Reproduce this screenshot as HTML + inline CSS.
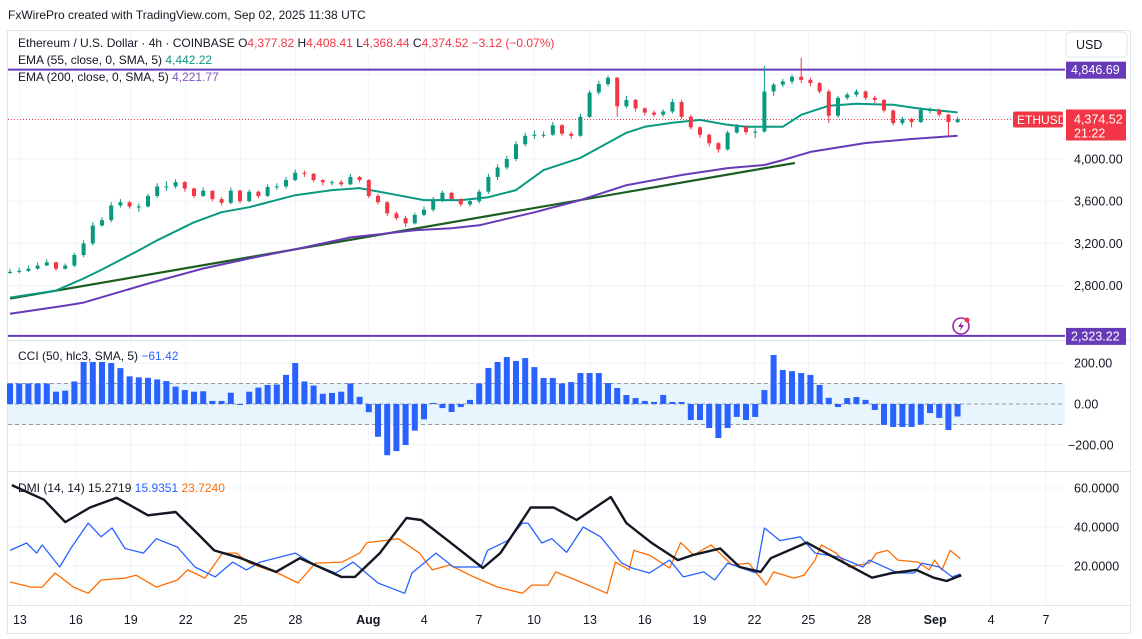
<!DOCTYPE html>
<html><head><meta charset="utf-8">
<style>
html,body{margin:0;padding:0;background:#fff;}
svg{display:block;font-family:"Liberation Sans",sans-serif;}
</style></head>
<body>
<svg id="chart" width="1142" height="639" viewBox="0 0 1142 639" xmlns="http://www.w3.org/2000/svg">
  <rect x="0" y="0" width="1142" height="639" fill="#ffffff"/>
  <text x="8" y="19" font-size="12" fill="#131722">FxWirePro created with TradingView.com, Sep 02, 2025 11:38 UTC</text>
  <rect x="7.5" y="30.5" width="1123" height="603" fill="none" stroke="#e0e3eb"/>
  <g id="grid"></g>
  <g id="main"></g>
  <g id="cci"></g>
  <g id="dmi"></g>
  <g id="axes"></g>
  <g id="legend">
    <text x="18" y="47" font-size="12" fill="#131722">Ethereum / U.S. Dollar · 4h · COINBASE <tspan fill="#131722"> O</tspan><tspan fill="#f23645">4,377.82</tspan><tspan fill="#131722"> H</tspan><tspan fill="#f23645">4,408.41</tspan><tspan fill="#131722"> L</tspan><tspan fill="#f23645">4,368.44</tspan><tspan fill="#131722"> C</tspan><tspan fill="#f23645">4,374.52</tspan><tspan fill="#f23645"> −3.12 (−0.07%)</tspan></text>
    <text x="18" y="64" font-size="12" fill="#131722">EMA (55, close, 0, SMA, 5) <tspan fill="#089981">4,442.22</tspan></text>
    <text x="18" y="81" font-size="12" fill="#131722">EMA (200, close, 0, SMA, 5) <tspan fill="#7e57c2">4,221.77</tspan></text>
    <text x="18" y="360" font-size="12" fill="#131722">CCI (50, hlc3, SMA, 5) <tspan fill="#2962ff">−61.42</tspan></text>
    <text x="18" y="492" font-size="12" fill="#131722">DMI (14, 14) <tspan fill="#131722">15.2719</tspan> <tspan fill="#2962ff">15.9351</tspan> <tspan fill="#ff6d00">23.7240</tspan></text>
  </g>
  <g transform="translate(961,326)">
    <circle cx="0" cy="0" r="8" fill="none" stroke="#9c27b0" stroke-width="1.6"/>
    <path d="M1 -5 L-3 1 L0 1 L-1 5 L3 -1 L0 -1 Z" fill="#9c27b0"/>
    <circle cx="6" cy="-6" r="2.5" fill="#f23645"/>
  </g>
</svg>
<script>
// ---- data (12h sampled bars) ----
const closes = [2930,2940,2960,2990,3020,2960,2990,3090,3200,3370,
3420,3560,3590,3550,3550,3650,3740,3740,3780,3720,
3650,3700,3620,3585,3700,3600,3690,3650,3735,3740,
3800,3870,3860,3800,3780,3780,3760,3830,3800,3650,
3590,3485,3440,3390,3470,3520,3610,3680,3620,3570,
3600,3690,3830,3920,4000,4140,4220,4230,4230,4320,
4240,4220,4400,4630,4710,4770,4500,4560,4480,4440,
4420,4450,4540,4400,4300,4230,4150,4090,4250,4305,
4255,4260,4640,4705,4735,4780,4750,4720,4640,4410,
4580,4610,4640,4580,4560,4460,4340,4380,4350,4465,
4465,4420,4350,4375];
const highs = [2960,2970,2990,3020,3050,3030,3010,3110,3230,3400,
3450,3590,3620,3600,3580,3670,3770,3790,3810,3790,
3730,3730,3700,3640,3730,3710,3710,3700,3760,3770,
3830,3900,3890,3870,3810,3800,3800,3860,3840,3810,
3670,3600,3500,3460,3490,3550,3640,3700,3690,3630,
3620,3710,3860,3950,4030,4170,4250,4270,4260,4350,
4330,4260,4430,4650,4740,4790,4780,4600,4570,4490,
4460,4470,4570,4560,4420,4310,4240,4160,4270,4330,
4320,4290,4880,4720,4760,4800,4960,4770,4730,4660,
4600,4630,4660,4650,4600,4570,4470,4400,4390,4490,
4490,4480,4430,4400];
const lows = [2910,2915,2930,2950,2985,2940,2950,2975,3070,3180,
3360,3400,3540,3530,3500,3540,3630,3700,3720,3690,
3630,3640,3600,3560,3570,3580,3590,3630,3640,3710,
3720,3790,3830,3780,3750,3750,3740,3750,3780,3630,
3570,3460,3420,3355,3380,3460,3500,3590,3600,3550,
3550,3580,3670,3800,3900,3980,4120,4190,4200,4220,
4220,4190,4210,4390,4610,4690,4400,4480,4450,4410,
4400,4400,4430,4380,4280,4200,4120,4060,4080,4240,
4230,4200,4250,4600,4680,4710,4720,4690,4620,4340,
4390,4560,4590,4560,4530,4440,4320,4320,4300,4340,
4430,4400,4220,4340];
const firstOpen = 2920;
const ema55Bar = [0,5,8,10,14,16,20,23,26,31,35,38,41,45,49,52,55,58,62,67,69,72,75,78,80,84,86,89,92,96,99,103];
const ema55Val = [2686,2753,2867,2953,3134,3229,3400,3496,3543,3657,3705,3724,3676,3610,3610,3638,3705,3895,4010,4248,4305,4343,4371,4324,4305,4305,4419,4505,4524,4514,4476,4442];
const ema200Bar = [0,6,8,15,21,26,32,37,41,44,48,51,57,62,67,73,78,82,84,87,93,98,103];
const ema200Val = [2534,2610,2639,2819,2962,3057,3162,3257,3295,3324,3343,3372,3495,3610,3752,3848,3914,3943,3990,4067,4152,4190,4221];
const trendBar = [0,85.3];
const trendVal = [2677,3962];
const levels = [4846.69, 2323.22];
const lastPrice = 4374.52;
const priceTicks = [4000,3600,3200,2800];
const cciVals = [100,100,100,100,100,60,65,110,205,205,
205,200,175,135,130,128,120,112,85,68,
60,62,15,15,55,0,60,80,93,95,
142,200,110,90,50,54,60,100,35,-40,
-160,-250,-230,-200,-130,-75,5,-20,-39,-15,
20,100,176,205,229,210,224,180,127,127,
100,107,151,151,151,102,78,44,29,15,
10,44,10,10,-78,-78,-117,-166,-117,-63,
-78,-63,68,239,166,160,151,142,93,30,
-15,29,34,20,-29,-102,-112,-112,-112,-100,
-44,-68,-127,-61];
const cciTicks = [200,0,-200];
const adxBar = [0.2,3.7,6,8.7,11.6,15,18,20.3,22.2,25.1,28.9,31.5,36,37.5,40.2,43.1,44.7,47.6,51.4,53.3,56.6,59.1,61.6,65.3,67,69.7,72.6,74.2,77.2,79.3,81.6,82.7,86.6,89.1,93.7,95.9,98.5,100.4,101.8,103.4];
const adxVal = [61.5,54,42.5,50,55,46,47.7,37,28,24,17,24,14.4,14.4,26.6,44.6,43.6,33,19,26.6,50,50,43.6,55.4,42,32,23,25.6,29,19.5,17,24,32,25.6,14,16.4,18,14,12.3,15.3];
const plusBar = [0,1.8,2.9,3.5,5.4,6.6,8.5,9.9,11.1,12.5,14.5,15.9,18.2,20.1,22.3,24.2,25.7,27.2,31,33.2,35.4,37.3,40,42.9,43.7,46.3,48.2,51.2,51.9,54.1,55.7,56.3,57.8,58.9,60.5,62.3,64.2,66.5,67.6,69.5,71.7,73.2,75.4,76.6,78,81.1,82,83.7,85.9,87.5,90.1,92.7,93.4,96.5,98.3,99.1,101,102.4,103.3];
const plusVal = [28,31.8,26.6,30.8,19.5,29,42,35,39.5,29,26.6,34,29.7,19.5,14.4,22,18,22,26.6,20.5,16.4,22,11.3,6,16.4,26.6,19.5,19.5,28,33,42,42,31.8,34,27,40,35,21.5,19,16.4,23,14.4,17,12.8,21.5,16.4,39.5,33,35,26.6,24.6,19.5,23,16.4,16.4,21.5,19.5,14.4,15.9];
const minusBar = [0,2.3,3.5,4.9,6.9,8.5,9.9,12.5,13.7,15.9,18.2,19.3,21.2,23.1,24.6,26,29.1,31.3,33.2,36.1,38,38.8,40.7,42.2,44.5,45.9,47.8,50.4,53,55.7,56.7,58.5,59.3,61.5,64.9,65.8,67.3,67.8,69.5,71.7,72.9,74.3,76.2,78.5,80.3,82.2,83,85.2,86.3,87.5,88.2,89.8,91.2,93.4,94.2,95.4,96.5,98.7,99.9,100.5,101.3,102.2,103.3];
const minusVal = [11.8,9.2,9.2,16.4,9.2,6,12.8,13.8,15.3,9.2,12.8,18,13.8,26.6,26.6,21.5,16.4,11.3,21.5,22,26.6,32,33,34,26.6,18,20.5,14.4,9.2,6,10.2,10.2,17,12.8,6,22,18,28,25.6,19,32,25.6,30.8,20.5,21.5,10.2,17,13.8,15.3,23,30.8,26.6,19.5,21.5,26.6,28,23,22,18,23,18,28,23.7];
const dmiTicks = [60,40,20];
const xLabels = ["13","16","19","22","25","28","Aug","4","7","10","13","16","19","22","25","28","Sep","4","7"];
const xLabelDay = [0.54,3.58,6.56,9.55,12.53,15.51,19.47,22.51,25.49,28.48,31.52,34.5,37.48,40.46,43.39,46.43,50.28,53.32,56.3];

// ---- scales ----
const NS = "http://www.w3.org/2000/svg";
const PL = 8, PR = 1065;
const xBar = t => 10 + 9.2 * t;
const xDay = d => 10 + 18.4 * d;
const yPrice = p => 159 - (p - 4000) * 0.1055;
const yCci = v => 404 - v * 0.205;
const yDmi = v => 566 - (v - 20) * 1.95;
function mk(tag, attrs, parent) {
  const e = document.createElementNS(NS, tag);
  for (const k in attrs) e.setAttribute(k, attrs[k]);
  parent.appendChild(e);
  return e;
}
const grid = document.getElementById('grid');
const main = document.getElementById('main');
const cci = document.getElementById('cci');
const dmi = document.getElementById('dmi');
const axes = document.getElementById('axes');

// grid
xLabelDay.forEach((d, i) => {
  const l = mk('line', {x1: xDay(d), x2: xDay(d), y1: 31, y2: 605, stroke: '#f0f3fa', 'stroke-width': 1}, grid);
  
  
});
[4800,4400].concat(priceTicks).forEach(p => {
  const l = mk('line', {x1: PL, x2: PR, y1: yPrice(p), y2: yPrice(p), stroke: '#f0f3fa'}, grid);
  
  
});
[200,100,0,-100,-200].forEach(v => {
  const l = mk('line', {x1: PL, x2: PR, y1: yCci(v), y2: yCci(v), stroke: '#f0f3fa'}, grid);
  
  
});
dmiTicks.forEach(v => {
  const l = mk('line', {x1: PL, x2: PR, y1: yDmi(v), y2: yDmi(v), stroke: '#f0f3fa'}, grid);
  
  
});
[340.5, 471.5, 605.5].forEach(y => {
  const l = mk('line', {x1: 8, x2: 1130, y1: y, y2: y, stroke: '#e0e3eb'}, grid);
  
  
});

function polyline(parent, bars, vals, yf, color, w, name) {
  const pts = bars.map((b, i) => xBar(b).toFixed(1) + ',' + yf(vals[i]).toFixed(1)).join(' ');
  const p = mk('polyline', {points: pts, fill: 'none', stroke: color, 'stroke-width': w, 'stroke-linejoin': 'round'}, parent);
  
  
  return p;
}
levels.forEach(v => {
  const l = mk('line', {x1: PL, x2: PR, y1: yPrice(v), y2: yPrice(v), stroke: '#673ab7', 'stroke-width': 2}, main);
  
  
});
const cur = mk('line', {x1: PL, x2: 1012, y1: yPrice(lastPrice), y2: yPrice(lastPrice), stroke: '#f23645', 'stroke-dasharray': '1,2'}, main);


polyline(main, trendBar, trendVal, yPrice, '#1b5e20', 2.2, 'trendline');
polyline(main, ema200Bar, ema200Val, yPrice, '#673ab7', 2, 'ema200-line');
polyline(main, ema55Bar, ema55Val, yPrice, '#089981', 2, 'ema55-line');
closes.forEach((c, i) => {
  const o = i === 0 ? firstOpen : closes[i - 1];
  const up = c >= o;
  const col = up ? '#089981' : '#f23645';
  const x = xBar(i);
  const g = mk('g', {}, main);
  
  
  mk('line', {x1: x, x2: x, y1: yPrice(highs[i]), y2: yPrice(lows[i]), stroke: col, 'stroke-width': 1}, g);
  const yt = yPrice(Math.max(o, c)), yb = yPrice(Math.min(o, c));
  mk('rect', {x: x - 2, y: yt, width: 4, height: Math.max(1, yb - yt), fill: col}, g);
});

// CCI pane
const band = mk('rect', {x: PL, y: yCci(100), width: PR - PL, height: yCci(-100) - yCci(100), fill: '#e3f2fd', opacity: 0.8}, cci);


[100, 0, -100].forEach(v => {
  const l = mk('line', {x1: PL, x2: PR, y1: yCci(v), y2: yCci(v), stroke: '#9598a1', 'stroke-dasharray': '4,3'}, cci);
  
  
});
cciVals.forEach((v, i) => {
  const y0 = yCci(0), y1 = yCci(v);
  const r = mk('rect', {x: xBar(i) - 3, y: Math.min(y0, y1), width: 6, height: Math.max(1, Math.abs(y1 - y0)), fill: '#2962ff'}, cci);
  
  
});

// DMI pane
polyline(dmi, minusBar, minusVal, yDmi, '#ff6d00', 1.3, 'di-minus-line');
polyline(dmi, plusBar, plusVal, yDmi, '#2962ff', 1.3, 'di-plus-line');
polyline(dmi, adxBar, adxVal, yDmi, '#131722', 2.4, 'adx-line');

function label(x, y, txt, opts, name) {
  const t = mk('text', Object.assign({x: x, y: y, 'font-size': 12.5, fill: '#131722'}, opts || {}), axes);
  t.textContent = txt;
  
  
  return t;
}
priceTicks.forEach(p => label(1074, yPrice(p) + 4.5, p.toLocaleString('en-US', {minimumFractionDigits: 2}), {}, 'price-tick-label'));
cciTicks.forEach(v => label(v < 0 ? 1068 : 1074, yCci(v) + 4.5, (v < 0 ? '−' + Math.abs(v) : v) + '.00', {}, 'cci-tick-label'));
dmiTicks.forEach(v => label(1074, yDmi(v) + 4.5, v + '.0000', {}, 'dmi-tick-label'));
xLabels.forEach((s, i) => {
  const bold = (s === 'Aug' || s === 'Sep');
  label(xDay(xLabelDay[i]), 624, s, {'text-anchor': 'middle', 'font-weight': bold ? 'bold' : 'normal'}, 'x-tick-label');
});
const usd = mk('rect', {x: 1066, y: 32, width: 61, height: 25, rx: 4, fill: '#fff', stroke: '#e0e3eb'}, axes);


label(1076, 49, 'USD', {}, 'currency-label');
levels.forEach(v => {
  const r = mk('rect', {x: 1066, y: yPrice(v) - 8, width: 60, height: 17, fill: '#673ab7'}, axes);
  
  
  label(1071, yPrice(v) + 4.5, v.toLocaleString('en-US', {minimumFractionDigits: 2}), {fill: '#fff'}, 'level-price-label');
});
const yl = yPrice(lastPrice);
const sym = mk('rect', {x: 1013, y: yl - 8, width: 50, height: 16, rx: 2, fill: '#f23645'}, axes);


label(1017, yl + 4.5, 'ETHUSD', {fill: '#fff', 'font-size': 12}, 'symbol-tag-label');
const lp = mk('rect', {x: 1066, y: yl - 10, width: 60, height: 31, fill: '#f23645'}, axes);


label(1074, yl + 4, lastPrice.toLocaleString('en-US', {minimumFractionDigits: 2}), {fill: '#fff'}, 'last-price-label');
label(1074, yl + 18, '21:22', {fill: '#fff'}, 'countdown-label');
</script>
</body></html>
